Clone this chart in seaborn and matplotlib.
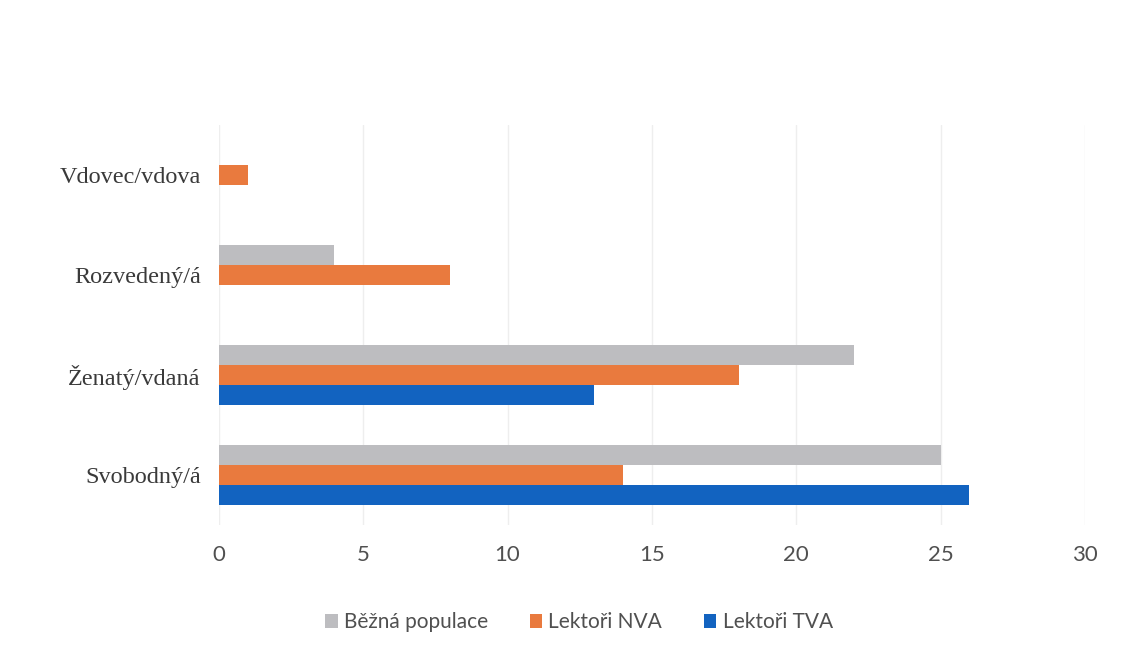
import pandas as pd
import seaborn as sns
import matplotlib.pyplot as plt

# categories top to bottom, as shown
categories = ['Vdovec/vdova', 'Rozvedený/á', 'Ženatý/vdaná', 'Svobodný/á']
series = ['Běžná populace', 'Lektoři NVA', 'Lektoři TVA']
bezna = [0, 4, 22, 25]
nva = [1, 8, 18, 14]
tva = [0, 0, 13, 26]
x_ticks = [0, 5, 10, 15, 20, 25, 30]

colors = ['#bdbdc0', '#e97a3e', '#1263c0']

rows = []
for name, vals in zip(series, [bezna, nva, tva]):
    for cat, v in zip(categories, vals):
        rows.append({'kategorie': cat, 'skupina': name, 'pocet': v})
df = pd.DataFrame(rows)

sns.set_theme(style='white')
fig = plt.figure(figsize=(11.22, 6.55), dpi=100)
ax = fig.add_axes([0.195, 0.198, 0.772, 0.611])

sns.barplot(data=df, y='kategorie', x='pocet', hue='skupina',
            order=categories, hue_order=series, palette=colors,
            orient='h', width=0.6, linewidth=0, saturation=1, ax=ax)

ax.set_xlim(0, 30)
ax.set_xticks(x_ticks)
ax.xaxis.grid(True, color='#eeeeee', linewidth=1)
ax.set_axisbelow(True)
for s in ax.spines.values():
    s.set_visible(False)
ax.set_xlabel('')
ax.set_ylabel('')
ax.tick_params(axis='both', length=0)
ax.tick_params(axis='x', pad=14)
ax.tick_params(axis='y', pad=13)

for lab in ax.get_yticklabels():
    lab.set_family('Liberation Serif')
    lab.set_fontsize(17.5)
    lab.set_color('#3a3a3a')
for lab in ax.get_xticklabels():
    lab.set_family('Lato')
    lab.set_fontsize(16)
    lab.set_color('#505050')

handles, labels = ax.get_legend_handles_labels()
ax.legend(handles, labels, loc='center', bbox_to_anchor=(0.516, 0.05),
          bbox_transform=fig.transFigure, ncol=3, frameon=False,
          prop={'family': 'Lato', 'size': 15}, labelcolor='#505050',
          handlelength=0.6, handleheight=0.6, handletextpad=0.3, columnspacing=2.0)

fig.savefig('out.png', dpi=100)
